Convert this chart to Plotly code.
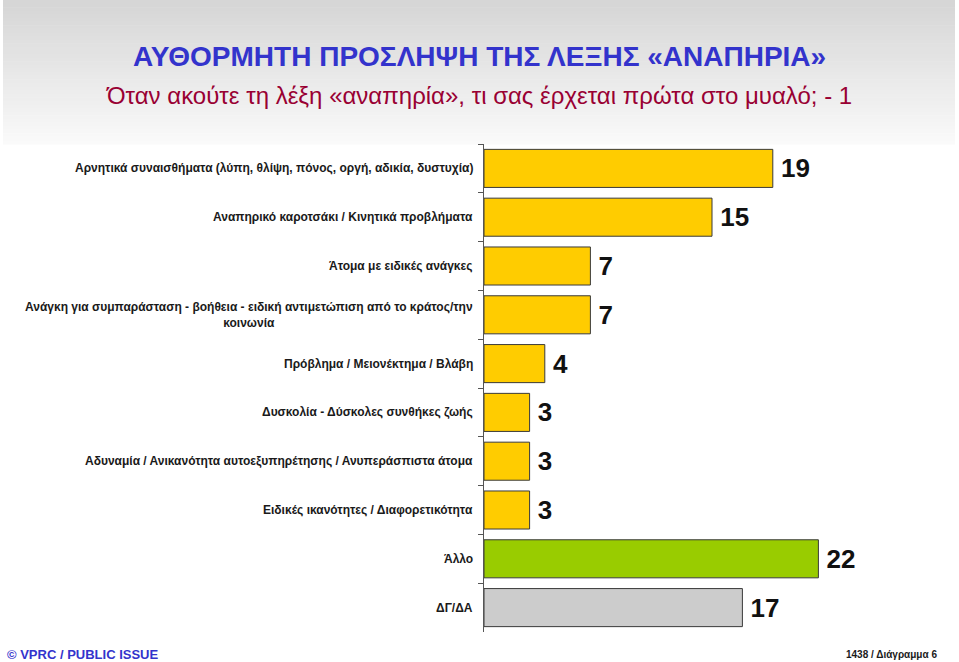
import plotly.graph_objects as go

categories = [
    "Αρνητικά συναισθήματα (λύπη, θλίψη, πόνος, οργή, αδικία, δυστυχία)",
    "Αναπηρικό καροτσάκι / Κινητικά προβλήματα",
    "Άτομα με ειδικές ανάγκες",
    "Ανάγκη για συμπαράσταση - βοήθεια - ειδική αντιμετώπιση από το κράτος/την<br>κοινωνία",
    "Πρόβλημα / Μειονέκτημα / Βλάβη",
    "Δυσκολία - Δύσκολες συνθήκες ζωής",
    "Αδυναμία / Ανικανότητα αυτοεξυπηρέτησης / Ανυπεράσπιστα άτομα",
    "Ειδικές ικανότητες / Διαφορετικότητα",
    "Άλλο",
    "ΔΓ/ΔΑ",
]
values = [19, 15, 7, 7, 4, 3, 3, 3, 22, 17]
bar_colors = ["#FFCC00"] * 8 + ["#99CC00", "#CCCCCC"]

title = "ΑΥΘΟΡΜΗΤΗ ΠΡΟΣΛΗΨΗ ΤΗΣ ΛΕΞΗΣ «ΑΝΑΠΗΡΙΑ»"
subtitle = "Όταν ακούτε τη λέξη «αναπηρία», τι σας έρχεται πρώτα στο μυαλό; - 1"
footer_left = "© VPRC / PUBLIC ISSUE"
footer_right = "1438 / Διάγραμμα 6"

W, H = 959, 662
SANS = "Liberation Sans, Arial, sans-serif"

ml, mr, mt, mb = 484, 19, 144, 30
pw, ph = W - ml - mr, H - mt - mb


def px_x(p):
    return (p - ml) / pw


def px_y(p):
    return (H - mb - p) / ph


fig = go.Figure()
fig.add_trace(go.Bar(
    y=categories, x=values, orientation="h",
    marker=dict(color=bar_colors, line=dict(color="#3a3a3a", width=1)),
    text=["\u2009" + str(v) for v in values], textposition="outside",
    textfont=dict(family=SANS, size=26, color="#111111", weight="bold"),
    cliponaxis=False, width=0.78,
))

shapes = []
n = 40
bot_y = 144
for i in range(n):
    t = i / (n - 1)
    c = int(214 + (250 - 214) * t)
    y0 = bot_y * i / n
    y1 = bot_y * (i + 1) / n + 0.5
    shapes.append(dict(type="rect", xref="paper", yref="paper", layer="below",
                       x0=px_x(3), x1=px_x(955), y0=px_y(y1), y1=px_y(y0),
                       fillcolor=f"rgb({c},{c},{c})", line=dict(width=0)))

annotations = []
for cat in categories:
    annotations.append(dict(
        xref="paper", yref="y", x=0, y=cat, xanchor="right", xshift=-9,
        text=cat, showarrow=False, align="center",
        font=dict(family=SANS, size=12, color="#1a1a1a", weight="bold"),
    ))
annotations += [
    dict(xref="paper", yref="paper", x=px_x(479), y=px_y(56), xanchor="center", yanchor="middle",
         text=title, showarrow=False,
         font=dict(family=SANS, size=28, color="#3333CC", weight="bold")),
    dict(xref="paper", yref="paper", x=px_x(479), y=px_y(96), xanchor="center", yanchor="middle",
         text=subtitle, showarrow=False,
         font=dict(family=SANS, size=24, color="#990033")),
    dict(xref="paper", yref="paper", x=px_x(5), y=px_y(654), xanchor="left", yanchor="middle",
         text=footer_left, showarrow=False,
         font=dict(family=SANS, size=13, color="#3333CC", weight="bold")),
    dict(xref="paper", yref="paper", x=px_x(939), y=px_y(654), xanchor="right", yanchor="middle",
         text=footer_right, showarrow=False,
         font=dict(family=SANS, size=10, color="#1a1a1a", weight="bold")),
]

fig.update_layout(
    width=W, height=H,
    margin=dict(l=ml, r=mr, t=mt, b=mb, autoexpand=False),
    paper_bgcolor="white", plot_bgcolor="rgba(0,0,0,0)",
    showlegend=False,
    shapes=shapes, annotations=annotations,
    xaxis=dict(range=[0, 30], visible=False, fixedrange=True),
    yaxis=dict(autorange="reversed", showticklabels=False, showline=True,
               linecolor="#555555", linewidth=1, ticks="outside", tickson="boundaries",
               ticklen=5, tickcolor="#555555", showgrid=False, zeroline=False),
    bargap=0.22,
)

fig.write_html("out.html")
